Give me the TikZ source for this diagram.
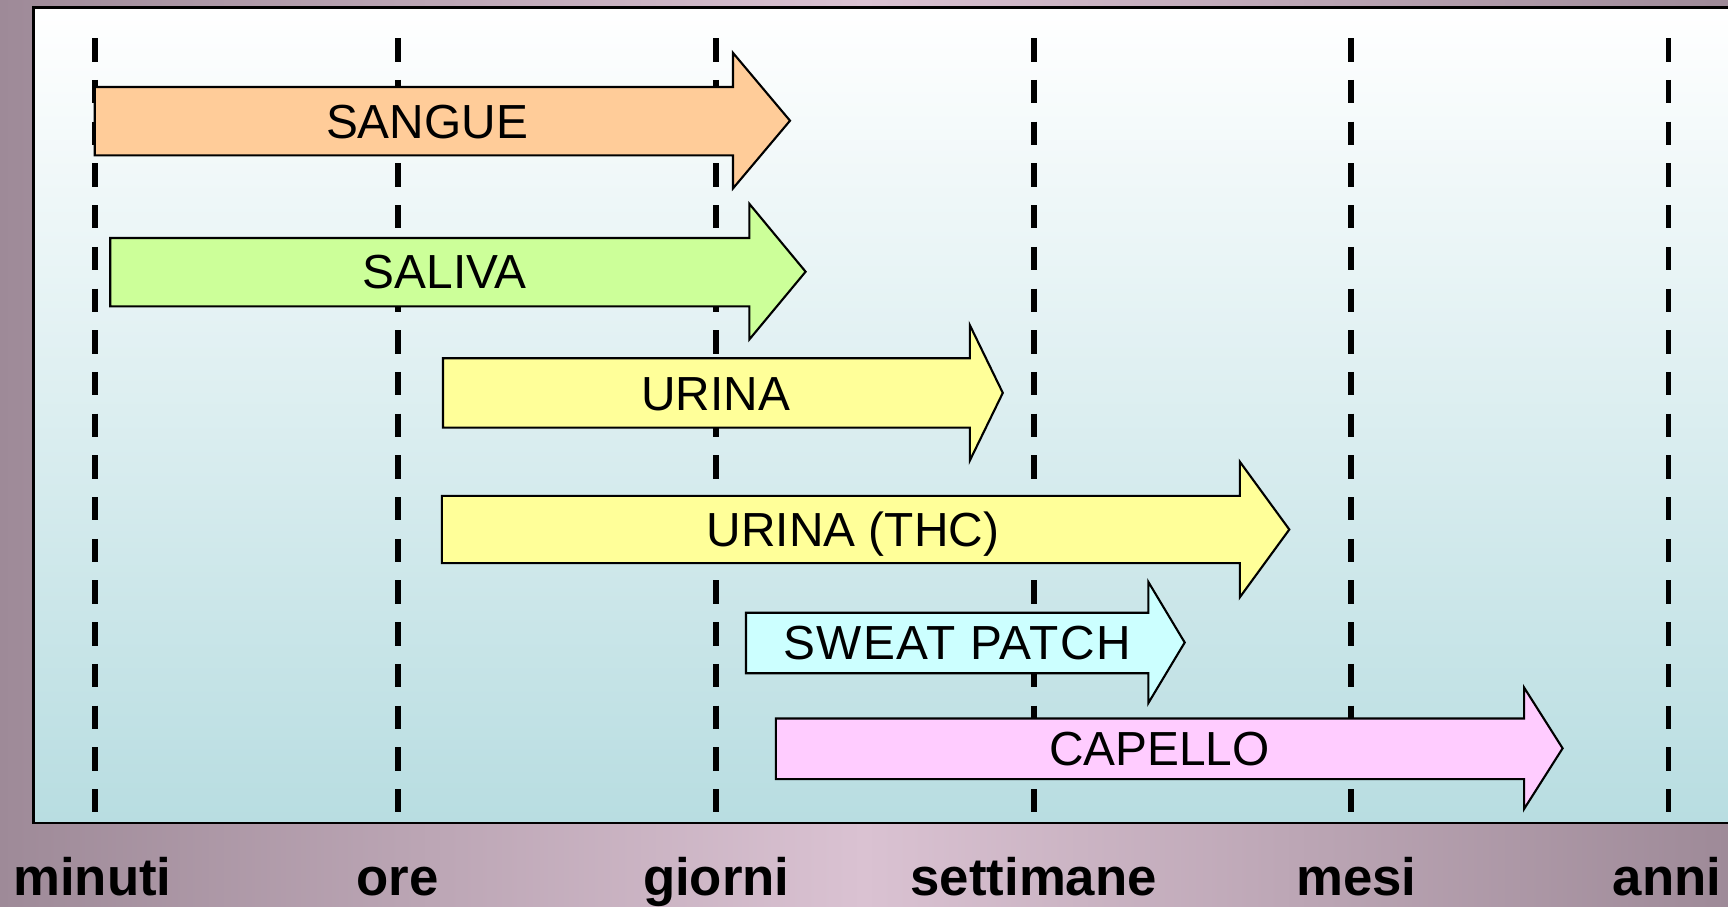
\documentclass[tikz,border=0pt]{standalone}
\usepackage{fontspec}
\setmainfont{Liberation Sans}
\definecolor{bgside}{HTML}{9E8A98}
\definecolor{bgmid}{HTML}{DAC2D2}
\definecolor{panelbot}{HTML}{B8DDE1}
\definecolor{csangue}{HTML}{FFCC99}
\definecolor{csaliva}{HTML}{CCFF99}
\definecolor{curina}{HTML}{FFFF99}
\definecolor{csweat}{HTML}{CCFFFF}
\definecolor{ccapello}{HTML}{FFCCFF}
\tikzset{
  arrowbody/.style={draw=black, line width=0.6pt, line join=miter},
  lbl/.style={anchor=base, inner sep=0pt, font=\fontsize{13.6pt}{16pt}\selectfont},
  axislbl/.style={anchor=base, inner sep=0pt, font=\fontsize{15pt}{18pt}\selectfont\bfseries},
  tickline/.style={line width=1.62pt, dash pattern=on 6.63pt off 5.23pt}
}
\newcommand{\drugarrow}[9]{%
  \filldraw[arrowbody, fill=#1] (#2,#3) -- (#5,#3) -- (#5,#6) -- (#8,#9) -- (#5,#7) -- (#5,#4) -- (#2,#4) -- cycle;}
\begin{document}
\begin{tikzpicture}[x=0.01cm,y=-0.01cm]
\useasboundingbox (0,0) rectangle (1728,907);
\shade[left color=bgside, right color=bgside, middle color=bgmid] (0,0) rectangle (1728,907);
% panel
\shade[top color=white, bottom color=panelbot] (33.5,7.5) rectangle (1780,823);
\draw[line width=0.8pt] (1780,7.5) -- (33.5,7.5) -- (33.5,823) -- (1780,823);
% axis labels
\node[axislbl] (minuti) at (92.5,895) {minuti};
\node[axislbl] (ore) at (397.8,895) {ore};
\node[axislbl] (giorni) at (716.3,895) {giorni};
\node[axislbl] (settimane) at (1033.7,895) {settimane};
\node[axislbl] (mesi) at (1356.5,895) {mesi};
\node[axislbl] (anni) at (1667,895) {anni};
% dashed time lines
\foreach \x in {94.8,397.8,716.3,1033.7,1351.1,1668.5}
  \draw[tickline] (\x,38.3) -- (\x,812.2);
% arrows
\drugarrow{csangue}{94.8}{87}{155.4}{733}{52.9}{188.4}{790}{120.7}
\drugarrow{csaliva}{110.2}{238}{306.4}{749.4}{203.9}{339.4}{805.6}{271.7}
\drugarrow{curina}{443}{358.2}{427.6}{969.8}{325.1}{460.6}{1002.8}{392.9}
\drugarrow{curina}{441.9}{495.9}{563.1}{1239.8}{461.7}{597.3}{1289.3}{529.5}
\drugarrow{csweat}{746}{612.7}{673.3}{1148.3}{581.9}{703.1}{1184.7}{642.5}
\drugarrow{ccapello}{775.8}{718.5}{779.1}{1524.1}{687.6}{808.9}{1562.6}{748.3}
% arrow labels
\node[lbl] (sangue) at (427,139) {SANGUE};
\node[lbl] (saliva) at (444.7,289) {SALIVA};
\node[lbl] (urina) at (715.8,410.5) {URINA};
\node[lbl] (urinathc) at (853,547) {URINA (THC)};
\node[lbl, font=\fontsize{13.6pt}{16pt}\selectfont\addfontfeatures{LetterSpace=3}] (sweat) at (957,659.5) {SWEAT PATCH};
\node[lbl] (capello) at (1159.3,765) {CAPELLO};
\end{tikzpicture}
\end{document}
